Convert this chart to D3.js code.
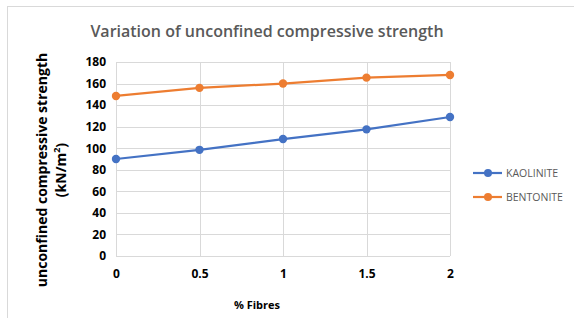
<!DOCTYPE html>
<html>
<head>
<meta charset="utf-8">
<script src="https://cdn.jsdelivr.net/npm/d3@7"></script>
<style>
  body { margin: 0; background: #fff; }
  text { font-family: "Open Sans", "Liberation Sans", sans-serif; }
</style>
</head>
<body>
<svg class="chart" width="574" height="318"></svg>
<script>
const fibres = [0, 0.5, 1, 1.5, 2];
const kaolinite = [90, 98.5, 108.5, 117.5, 129];
const bentonite = [148.5, 156, 160, 165.5, 168];
const seriesNames = ["KAOLINITE", "BENTONITE"];
const yTicks = [0, 20, 40, 60, 80, 100, 120, 140, 160, 180];

const colors = ["#4472c4", "#ed7d31"];
const series = [kaolinite, bentonite];

const $svg = d3.select(".chart");
const plotLeft = 116, plotRight = 450, plotTop = 62, plotBottom = 256;

// outer frame
$svg.append("rect")
  .attr("x", 7.5).attr("y", 6.5)
  .attr("width", 600).attr("height", 330)
  .attr("fill", "none").attr("stroke", "#d9d9d9");

const x = d3.scaleLinear().domain([0, 2]).range([plotLeft, plotRight]);
const y = d3.scaleLinear().domain([0, 180]).range([plotBottom, plotTop]);

// gridlines
const $grid = $svg.append("g");
$grid.selectAll(".h").data(yTicks).enter().append("line")
  .attr("x1", plotLeft).attr("x2", plotRight)
  .attr("y1", d => Math.round(y(d)) + 0.5).attr("y2", d => Math.round(y(d)) + 0.5)
  .attr("stroke", "#d9d9d9");
$grid.selectAll(".v").data(fibres).enter().append("line")
  .attr("x1", d => Math.round(x(d)) + 0.5).attr("x2", d => Math.round(x(d)) + 0.5)
  .attr("y1", plotTop).attr("y2", plotBottom)
  .attr("stroke", "#d9d9d9");

// axes
const yAxis = d3.axisLeft(y).tickValues(yTicks).tickSize(0).tickPadding(10);
$svg.append("g").attr("transform", `translate(${plotLeft},0)`).call(yAxis)
  .call(g => g.select(".domain").remove())
  .selectAll("text")
  .attr("font-size", 12).attr("font-weight", "bold").attr("fill", "#000")
  .attr("font-family", "Open Sans, sans-serif");

const xAxis = d3.axisBottom(x).tickValues(fibres).tickSize(0).tickPadding(13)
  .tickFormat(d => d);
$svg.append("g").attr("transform", `translate(0,${plotBottom})`).call(xAxis)
  .call(g => g.select(".domain").remove())
  .selectAll("text")
  .attr("font-size", 12).attr("font-weight", "bold").attr("fill", "#000")
  .attr("font-family", "Open Sans, sans-serif");

// lines and markers
const line = d3.line().x((d, i) => x(fibres[i])).y(d => y(d));
series.forEach((s, k) => {
  $svg.append("path").datum(s)
    .attr("d", line).attr("fill", "none")
    .attr("stroke", colors[k]).attr("stroke-width", 2.2);
  $svg.selectAll(".m" + k).data(s).enter().append("circle")
    .attr("cx", (d, i) => x(fibres[i])).attr("cy", d => y(d))
    .attr("r", 4.2).attr("fill", colors[k]);
});

// title
$svg.append("text")
  .attr("x", 267).attr("y", 37)
  .attr("text-anchor", "middle")
  .attr("font-size", 16).attr("font-weight", 600).attr("fill", "#595959")
  .text("Variation of unconfined compressive strength");

// y title
const $yt = $svg.append("text")
  .attr("transform", "translate(47,170) rotate(-90)")
  .attr("text-anchor", "middle")
  .attr("font-size", 14).attr("font-weight", "bold").attr("fill", "#000");
$yt.append("tspan").attr("x", 0).attr("dy", 0).text("unconfined compressive strength");
const $t2 = $yt.append("tspan").attr("x", 0).attr("dy", 19);
$t2.append("tspan").text("(kN/m");
$t2.append("tspan").attr("font-size", 9).attr("dy", -6).text("2");
$t2.append("tspan").attr("dy", 6).text(")");

// x title
$svg.append("text")
  .attr("x", 257).attr("y", 309)
  .attr("text-anchor", "middle")
  .attr("font-size", 11).attr("font-weight", "bold").attr("fill", "#000")
  .text("% Fibres");

// legend
const $legend = $svg.append("g");
seriesNames.forEach((name, k) => {
  const ly = 173 + k * 24;
  $legend.append("line")
    .attr("x1", 473).attr("x2", 502).attr("y1", ly).attr("y2", ly)
    .attr("stroke", colors[k]).attr("stroke-width", 2.2);
  $legend.append("circle").attr("cx", 488).attr("cy", ly).attr("r", 4).attr("fill", colors[k]);
  $legend.append("text")
    .attr("x", 506).attr("y", ly + 4)
    .attr("font-size", 10.5).attr("fill", "#595959")
    .text(name);
});
</script>
</body>
</html>
